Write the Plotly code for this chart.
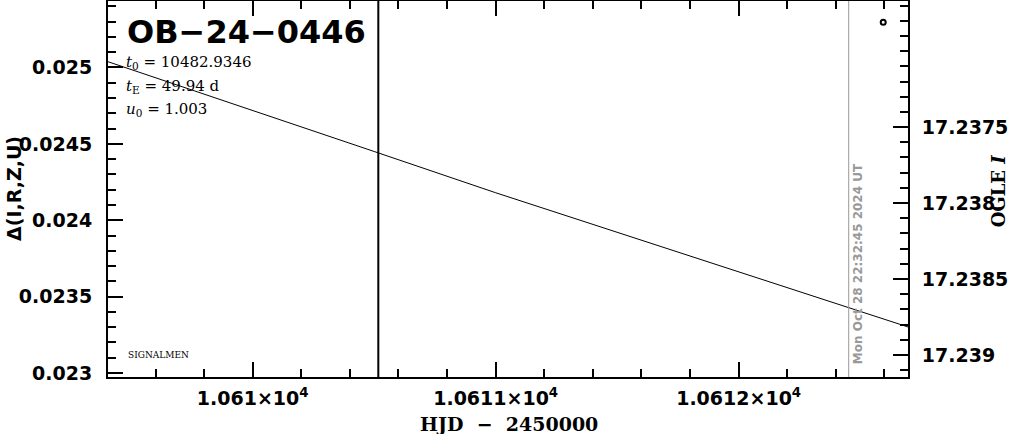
import plotly.graph_objects as go

# ---- data ----
hjd_model = [10609.40, 10610.00, 10610.50, 10611.00, 10611.50, 10612.00, 10612.70]
delta_model = [0.02504, 0.02472, 0.02445, 0.02418, 0.02392, 0.02366, 0.02330]

ogle_hjd = [10612.595]
ogle_mag = [17.23681]

x_tickvals = [10610, 10611, 10612]
x_ticktext = ["1.061×10<sup>4</sup>", "1.0611×10<sup>4</sup>", "1.0612×10<sup>4</sup>"]
y_tickvals = [0.023, 0.0235, 0.024, 0.0245, 0.025]
y_ticktext = ["0.023", "0.0235", "0.024", "0.0245", "0.025"]
y2_tickvals = [17.2375, 17.238, 17.2385, 17.239]
y2_ticktext = ["17.2375", "17.238", "17.2385", "17.239"]

x_range = [10609.4045, 10612.697]
y_range = [0.022974, 0.025435]
y2_range = [17.239145, 17.23667]

now_line_hjd = 10610.517
date_line_hjd = 10612.453
date_text = "Mon Oct 28 22:32:45 2024 UT"

title_text = "OB−24−0446"
param_lines = [
    "<i>t</i><sub>0</sub> = 10482.9346",
    "<i>t</i><sub>E</sub> = 49.94 d",
    "<i>u</i><sub>0</sub> = 1.003",
]

TICKFONT = dict(family="DejaVu Sans", size=19, color="black", weight="bold")

fig = go.Figure()
fig.add_trace(go.Scatter(x=hjd_model, y=delta_model, mode="lines",
                         line=dict(color="black", width=1), showlegend=False,
                         hoverinfo="skip"))
fig.add_trace(go.Scatter(x=ogle_hjd, y=ogle_mag, yaxis="y2", mode="markers",
                         marker=dict(symbol="circle-open", size=5, color="black",
                                     line=dict(width=2, color="black")),
                         showlegend=False))

fig.update_layout(
    width=1011, height=434,
    margin=dict(l=108, r=103, t=1, b=57, autoexpand=False),
    paper_bgcolor="white", plot_bgcolor="white",
    xaxis=dict(range=x_range, tickmode="array", tickvals=x_tickvals, ticktext=x_ticktext,
               ticks="inside", ticklen=15, tickwidth=2, tickcolor="black",
               showline=True, linewidth=2, linecolor="black", mirror="ticks",
               showgrid=False, zeroline=False, tickfont=TICKFONT, ticklabelstandoff=3,
               minor=dict(tickmode="linear", tick0=10610, dtick=0.2, ticks="inside",
                          ticklen=8, tickwidth=2, tickcolor="black", showgrid=False)),
    yaxis=dict(range=y_range, tickmode="array", tickvals=y_tickvals, ticktext=y_ticktext,
               ticks="inside", ticklen=15, tickwidth=2, tickcolor="black",
               showline=True, linewidth=2, linecolor="black", mirror=False,
               showgrid=False, zeroline=False, tickfont=TICKFONT, ticklabelstandoff=10,
               minor=dict(tickmode="linear", tick0=0.023, dtick=0.0001, ticks="inside",
                          ticklen=8, tickwidth=2, tickcolor="black", showgrid=False)),
    yaxis2=dict(range=y2_range, overlaying="y", side="right", tickmode="array",
                tickvals=y2_tickvals, ticktext=y2_ticktext,
                ticks="inside", ticklen=15, tickwidth=2, tickcolor="black",
                showline=True, linewidth=2, linecolor="black",
                showgrid=False, zeroline=False, tickfont=TICKFONT, ticklabelstandoff=8,
                minor=dict(tickmode="linear", tick0=17.2375, dtick=0.0001, ticks="inside",
                           ticklen=8, tickwidth=2, tickcolor="black", showgrid=False)),
)

fig.add_shape(type="line", xref="x", yref="paper", x0=now_line_hjd, x1=now_line_hjd,
              y0=0, y1=1, line=dict(color="black", width=2))
fig.add_shape(type="line", xref="x", yref="paper", x0=date_line_hjd, x1=date_line_hjd,
              y0=0, y1=1, line=dict(color="#999999", width=1))

def px2x(px):
    return (px - 108) / 799.7

def py2y(py):
    return (377 - py) / 376

anns = []
anns.append(dict(text=title_text, xref="paper", yref="paper", x=px2x(125), y=py2y(32),
                 xanchor="left", yanchor="middle", showarrow=False,
                 font=dict(family="DejaVu Sans", size=32, color="black", weight="bold")))
for i, t in enumerate(param_lines):
    anns.append(dict(text=t, xref="paper", yref="paper", x=px2x(124), y=py2y(63 + 23 * i),
                     xanchor="left", yanchor="middle", showarrow=False,
                     font=dict(family="DejaVu Serif", size=15, color="black")))
anns.append(dict(text="SIGNALMEN", xref="paper", yref="paper", x=px2x(126), y=py2y(355),
                 xanchor="left", yanchor="middle", showarrow=False,
                 font=dict(family="DejaVu Serif", size=9, color="black")))
anns.append(dict(text="Δ(I,R,Z,U)", xref="paper", yref="paper", x=px2x(14), y=py2y(188),
                 xanchor="center", yanchor="middle", textangle=-90, showarrow=False,
                 font=dict(family="DejaVu Sans", size=19, color="black", weight="bold")))
anns.append(dict(text="OGLE <i>I</i>", xref="paper", yref="paper", x=px2x(999), y=py2y(191),
                 xanchor="center", yanchor="middle", textangle=-90, showarrow=False,
                 font=dict(family="DejaVu Serif", size=18, color="black", weight="bold")))
anns.append(dict(text="HJD  −  2450000", xref="paper", yref="paper", x=px2x(509), y=py2y(424),
                 xanchor="center", yanchor="middle", showarrow=False,
                 font=dict(family="DejaVu Serif", size=19, color="black", weight="bold")))
anns.append(dict(text=date_text, xref="x", yref="paper", x=date_line_hjd, y=py2y(366),
                 xanchor="left", yanchor="bottom", textangle=-90, showarrow=False,
                 font=dict(family="DejaVu Sans", size=12, color="#999999", weight="bold")))
fig.update_layout(annotations=anns)

fig.write_html("out.html", config={"displayModeBar": False},
               post_script="document.body.style.margin='0';document.body.style.padding='0';")
